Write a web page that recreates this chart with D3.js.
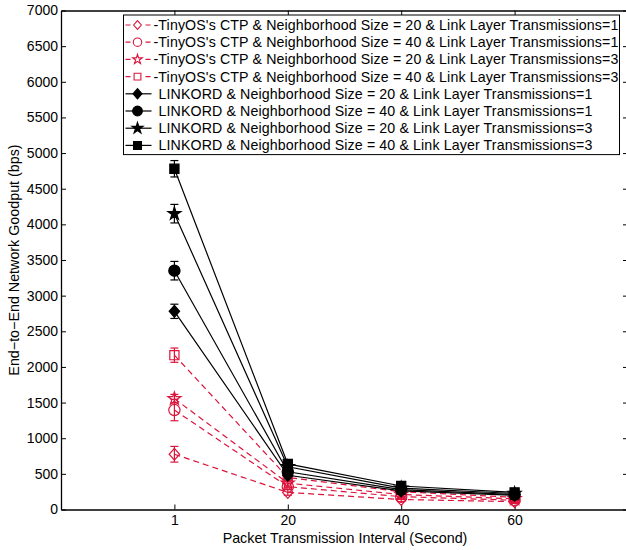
<!DOCTYPE html>
<html>
<head>
<meta charset="utf-8">
<script src="https://cdn.jsdelivr.net/npm/d3@7"></script>
<style>
  html, body { margin: 0; padding: 0; background: #fff; }
  svg { display: block; font-family: "Liberation Sans", Arial, sans-serif; }
</style>
</head>
<body>
<svg id="chart" width="626" height="550"></svg>
<script>
// Packet transmission intervals (categorical positions on the x axis)
const intervals = ["1", "20", "40", "60"];
const yTicks = [0, 500, 1000, 1500, 2000, 2500, 3000, 3500, 4000, 4500, 5000, 5500, 6000, 6500, 7000];

// Series names
const seriesNames = [
  "TinyOS's CTP & Neighborhood Size = 20 & Link Layer Transmissions=1",
  "TinyOS's CTP & Neighborhood Size = 40 & Link Layer Transmissions=1",
  "TinyOS's CTP & Neighborhood Size = 20 & Link Layer Transmissions=3",
  "TinyOS's CTP & Neighborhood Size = 40 & Link Layer Transmissions=3",
  "LINKORD & Neighborhood Size = 20 & Link Layer Transmissions=1",
  "LINKORD & Neighborhood Size = 40 & Link Layer Transmissions=1",
  "LINKORD & Neighborhood Size = 20 & Link Layer Transmissions=3",
  "LINKORD & Neighborhood Size = 40 & Link Layer Transmissions=3"
];

// Goodput (bps) per interval
const ctpN20T1 = [775, 240, 140, 110];
const ctpN40T1 = [1395, 320, 180, 130];
const ctpN20T3 = [1555, 370, 210, 150];
const ctpN40T3 = [2165, 450, 250, 170];
const lkN20T1 = [2780, 480, 260, 200];
const lkN40T1 = [3350, 530, 280, 210];
const lkN20T3 = [4150, 600, 300, 225];
const lkN40T3 = [4780, 640, 330, 240];

// Error half-widths (bps)
const ctpN20T1Err = [110, 40, 30, 25];
const ctpN40T1Err = [150, 40, 30, 25];
const ctpN20T3Err = [60, 40, 30, 25];
const ctpN40T3Err = [100, 40, 30, 25];
const lkN20T1Err = [100, 50, 40, 30];
const lkN40T1Err = [130, 50, 40, 30];
const lkN20T3Err = [130, 50, 40, 30];
const lkN40T3Err = [115, 50, 40, 30];

const RED = "#dc143c";
const BLACK = "#000";

const series = [
  { name: seriesNames[0], values: ctpN20T1, err: ctpN20T1Err, color: RED, dashed: true, marker: "diamond", filled: false },
  { name: seriesNames[1], values: ctpN40T1, err: ctpN40T1Err, color: RED, dashed: true, marker: "circle", filled: false },
  { name: seriesNames[2], values: ctpN20T3, err: ctpN20T3Err, color: RED, dashed: true, marker: "star", filled: false },
  { name: seriesNames[3], values: ctpN40T3, err: ctpN40T3Err, color: RED, dashed: true, marker: "square", filled: false },
  { name: seriesNames[4], values: lkN20T1, err: lkN20T1Err, color: BLACK, dashed: false, marker: "diamond", filled: true },
  { name: seriesNames[5], values: lkN40T1, err: lkN40T1Err, color: BLACK, dashed: false, marker: "circle", filled: true },
  { name: seriesNames[6], values: lkN20T3, err: lkN20T3Err, color: BLACK, dashed: false, marker: "star", filled: true },
  { name: seriesNames[7], values: lkN40T3, err: lkN40T3Err, color: BLACK, dashed: false, marker: "square", filled: true }
];

const svg = d3.select("#chart");
const plot = { left: 61, right: 628, top: 10.5, bottom: 509.5 };

const x = d3.scaleLinear().domain([0, intervals.length + 1]).range([plot.left, plot.right]);
const y = d3.scaleLinear().domain([0, 7000]).range([plot.bottom, plot.top]);

// Compact diamond, a little taller than wide
const diamondType = {
  draw(ctx, size) {
    const r = Math.sqrt(size / 1.6);
    ctx.moveTo(0, -r);
    ctx.lineTo(r * 0.88, 0);
    ctx.lineTo(0, r);
    ctx.lineTo(-r * 0.88, 0);
    ctx.closePath();
  }
};
const markerSize = { diamond: 56, circle: 100, star: 52, square: 84 };
const markerType = { diamond: diamondType, circle: d3.symbolCircle, star: d3.symbolStar, square: d3.symbolSquare };
const symbolPath = (m, scale = 1) => d3.symbol().type(markerType[m]).size(markerSize[m] * scale)();

// Axes box with inward ticks on all sides
const tickLen = 5;
const xTickPos = intervals.map((_, i) => i + 1);

const bottomAxis = d3.axisBottom(x).tickValues(xTickPos).tickFormat((d) => intervals[d - 1])
  .tickSizeInner(-tickLen).tickSizeOuter(0).tickPadding(6);
const topAxis = d3.axisTop(x).tickValues(xTickPos).tickFormat("").tickSizeInner(-tickLen).tickSizeOuter(0);
const leftAxis = d3.axisLeft(y).tickValues(yTicks).tickFormat(d3.format("d"))
  .tickSizeInner(-tickLen).tickSizeOuter(0).tickPadding(3);
const rightAxis = d3.axisRight(y).tickValues(yTicks).tickFormat("").tickSizeInner(-tickLen).tickSizeOuter(0);

function styleAxis(g) {
  g.select(".domain").attr("stroke", "#000").attr("stroke-width", 1.3);
  g.selectAll(".tick line").attr("stroke", "#000").attr("stroke-width", 1);
  g.selectAll(".tick text").attr("fill", "#000").style("font-size", "14px")
    .style("font-family", "'Liberation Sans', Arial, sans-serif");
}

svg.append("g").attr("transform", `translate(0,${plot.bottom})`).call(bottomAxis).call(styleAxis);
svg.append("g").attr("transform", `translate(0,${plot.top})`).call(topAxis).call(styleAxis);
svg.append("g").attr("transform", `translate(${plot.left},0)`).call(leftAxis).call(styleAxis);
svg.append("g").attr("transform", `translate(${plot.right},0)`).call(rightAxis).call(styleAxis);

// Axis titles
svg.append("text")
  .attr("x", 345).attr("y", 543)
  .attr("text-anchor", "middle").style("font-size", "14.3px")
  .text("Packet Transmission Interval (Second)");

svg.append("text")
  .attr("transform", `translate(19,${(plot.top + plot.bottom) / 2}) rotate(-90)`)
  .attr("text-anchor", "middle").style("font-size", "14.3px")
  .text("End\u2212to\u2212End Network Goodput (bps)");

// Data lines, error bars and markers
const line = d3.line().x((d, i) => x(i + 1)).y((d) => y(d));
const gData = svg.append("g");
const capW = 4;

series.forEach((s) => {
  const g = gData.append("g");
  g.append("path")
    .datum(s.values)
    .attr("d", line)
    .attr("fill", "none")
    .attr("stroke", s.color)
    .attr("stroke-width", 1.2)
    .attr("stroke-dasharray", s.dashed ? "6,4" : null);

  s.values.forEach((v, i) => {
    const cx = x(i + 1);
    const lo = y(v - s.err[i]);
    const hi = y(v + s.err[i]);
    g.append("line").attr("x1", cx).attr("x2", cx).attr("y1", lo).attr("y2", hi)
      .attr("stroke", s.color).attr("stroke-width", 1.2);
    [lo, hi].forEach((yy) => {
      g.append("line").attr("x1", cx - capW).attr("x2", cx + capW).attr("y1", yy).attr("y2", yy)
        .attr("stroke", s.color).attr("stroke-width", 1.2);
    });
    g.append("path")
      .attr("d", symbolPath(s.marker))
      .attr("transform", `translate(${cx},${y(v)})`)
      .attr("fill", s.filled ? s.color : "none")
      .attr("stroke", s.color)
      .attr("stroke-width", 1.2);
  });
});

// Legend
const legend = { left: 123.5, top: 15, width: 496, rowH: 17.2 };
svg.append("rect")
  .attr("x", legend.left).attr("y", legend.top)
  .attr("width", legend.width).attr("height", legend.rowH * series.length + 2)
  .attr("fill", "#fff").attr("stroke", "#000").attr("stroke-width", 1);

series.forEach((s, i) => {
  const cy = legend.top + 10 + i * legend.rowH;
  const g = svg.append("g");
  const lx0 = legend.left + 2, lx1 = legend.left + 28, mx = legend.left + 14;
  g.append("line").attr("x1", lx0).attr("x2", lx1).attr("y1", cy).attr("y2", cy)
    .attr("stroke", s.color).attr("stroke-width", 1.2)
    .attr("stroke-dasharray", s.dashed ? "5,5" : null);
  g.append("path")
    .attr("d", symbolPath(s.marker, s.filled ? 0.75 : 0.55))
    .attr("transform", `translate(${mx},${cy})`)
    .attr("fill", s.filled ? s.color : "#fff")
    .attr("stroke", s.color).attr("stroke-width", 1.1);
  g.append("text")
    .attr("x", legend.left + (s.dashed ? 30 : 35)).attr("y", cy)
    .attr("dy", "0.35em")
    .style("font-size", "14.2px")
    .style("letter-spacing", "0.12px")
    .text((s.dashed ? "-" : "") + s.name);
});
</script>
</body>
</html>
